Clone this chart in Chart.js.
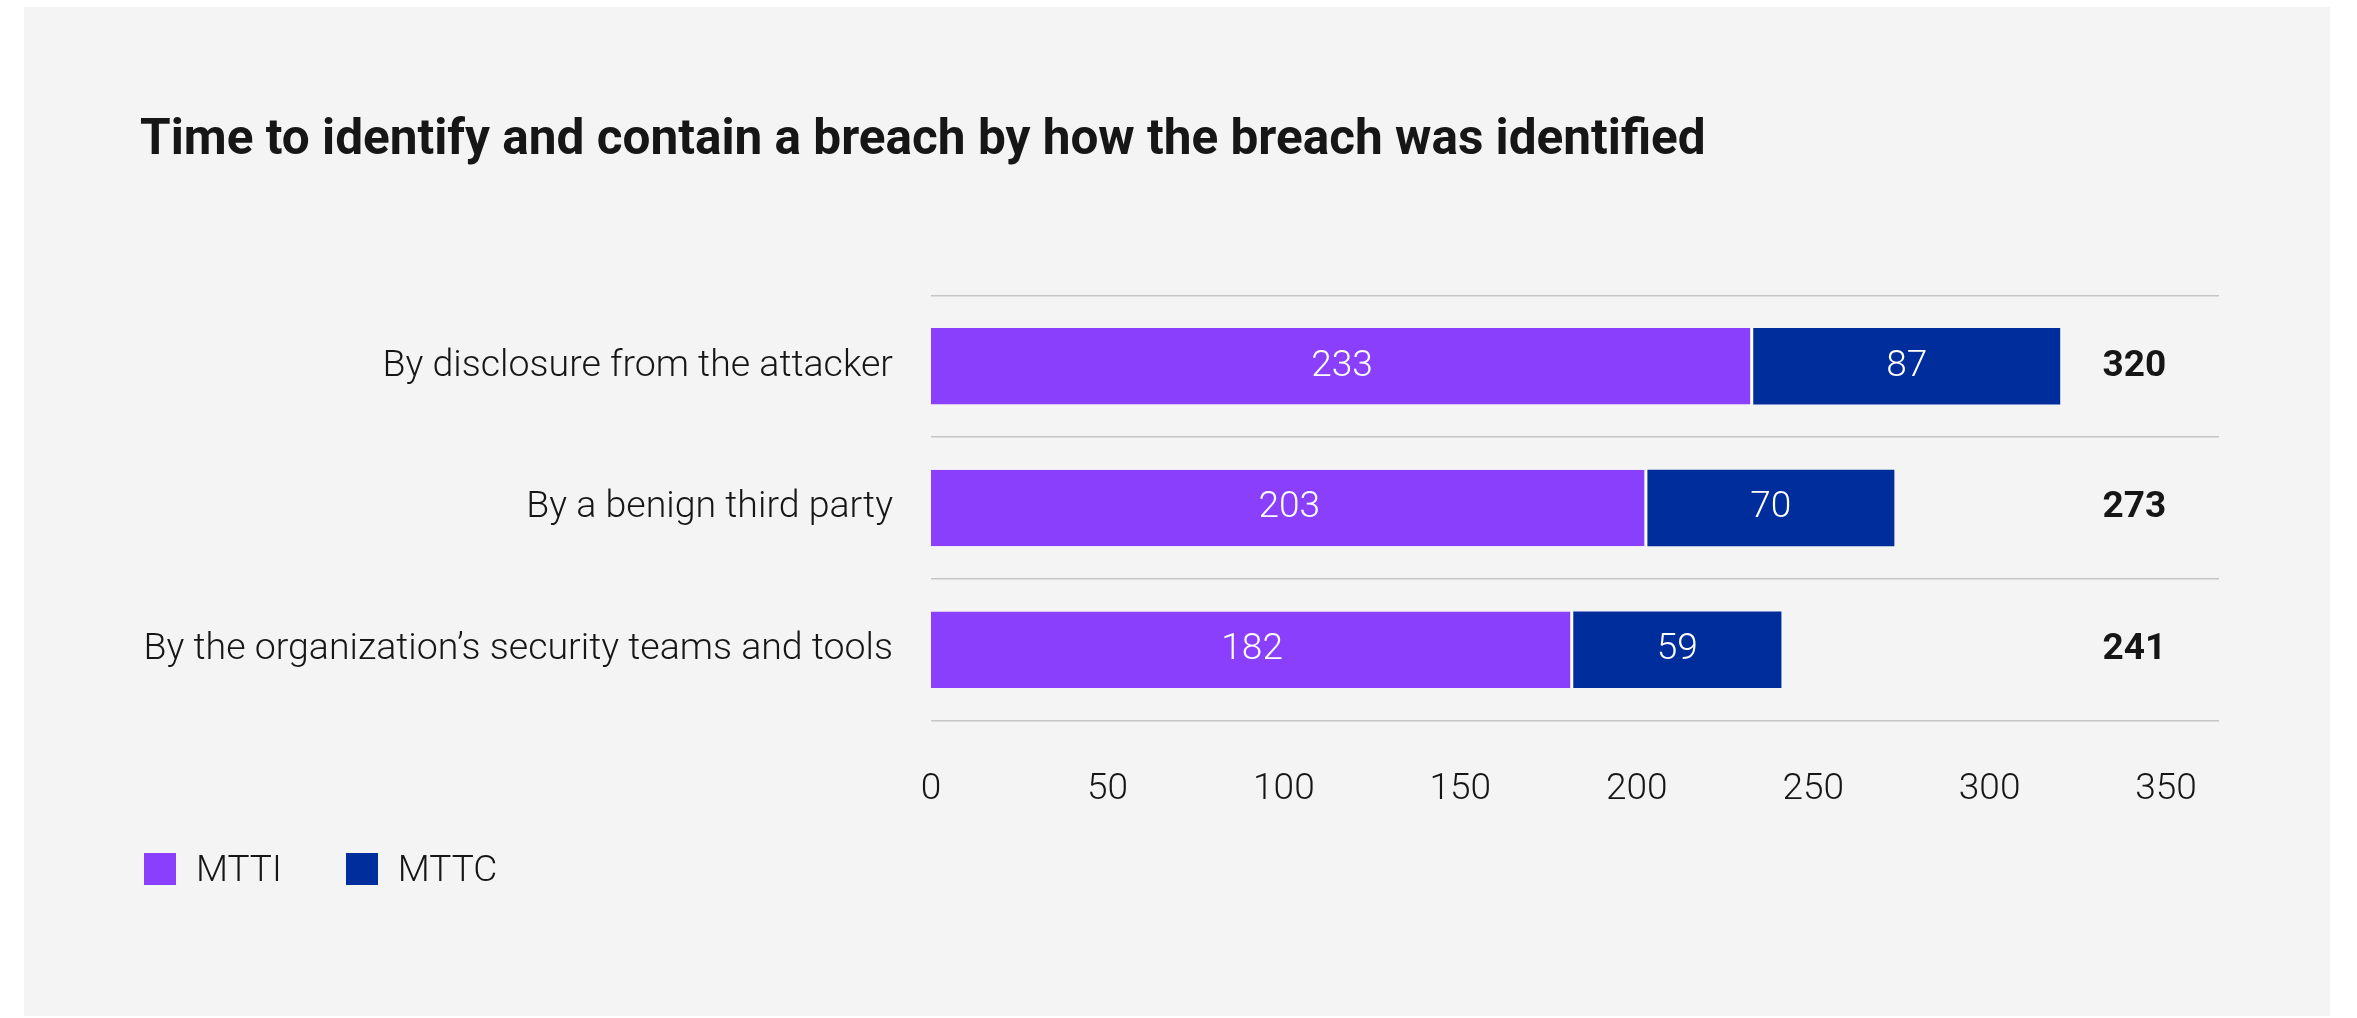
<!DOCTYPE html>
<html>
<head>
<meta charset="utf-8">
<script src="https://cdn.jsdelivr.net/npm/chart.js@4.4.1/dist/chart.umd.min.js"></script>
<style>
  html, body { margin: 0; padding: 0; background: #ffffff; }
  #panel { position: absolute; left: 24px; top: 7px; width: 2306px; height: 1009px; background: #f4f4f4; }
  #chartBox { position: absolute; left: 0; top: 0; width: 2306px; height: 1009px; }
  #legend { position: absolute; left: 120px; top: 840px; display: flex; gap: 64px;
            font-family: Roboto, sans-serif; font-weight: 300; font-size: 37px; color: #161616; }
  .item { display: flex; align-items: center; }
  .swatch { width: 32px; height: 32px; margin-right: 20px; }
</style>
</head>
<body>
<div id="panel">
  <div id="chartBox"><canvas id="breachChart"></canvas></div>
  <div id="legend"></div>
</div>
<script>
const categories = [
  'By disclosure from the attacker',
  'By a benign third party',
  'By the organization’s security teams and tools'
];
const mttiValues = [233, 203, 182];
const mttcValues = [87, 70, 59];
const xTicks = [0, 50, 100, 150, 200, 250, 300, 350];
const totals = mttiValues.map((v, i) => v + mttcValues[i]);
const totalAt = 341; // where the total column sits on the x scale

const textColor = '#161616';

// white value labels inside the segments + bold totals on the right
const barLabels = {
  id: 'barLabels',
  afterDatasetsDraw(chart) {
    const ctx = chart.ctx;
    ctx.save();
    ctx.textAlign = 'center';
    ctx.textBaseline = 'middle';
    ctx.font = '300 37px Roboto, sans-serif';
    ctx.fillStyle = '#ffffff';
    chart.data.datasets.forEach((ds, i) => {
      chart.getDatasetMeta(i).data.forEach((bar, j) => {
        ctx.fillText(String(ds.data[j]), (bar.x + bar.base) / 2, bar.y);
      });
    });
    ctx.font = 'bold 37px Roboto, sans-serif';
    ctx.fillStyle = textColor;
    const x = chart.scales.x.getPixelForValue(totalAt);
    chart.getDatasetMeta(0).data.forEach((bar, j) => {
      ctx.fillText(String(totals[j]), x, bar.y);
    });
    ctx.restore();
  }
};

const chart = new Chart(document.getElementById('breachChart'), {
  type: 'bar',
  data: {
    labels: categories,
    datasets: [{
      label: 'MTTI',
      data: mttiValues,
      backgroundColor: '#8a3ffc',
      borderColor: '#ffffff',
      borderWidth: { right: 3, left: 0, top: 0, bottom: 0 },
      borderSkipped: false
    }, {
      label: 'MTTC',
      data: mttcValues,
      backgroundColor: '#002d9c',
      borderWidth: 0
    }]
  },
  options: {
    indexAxis: 'y',
    responsive: true,
    maintainAspectRatio: false,
    animation: false,
    datasets: { bar: { categoryPercentage: 1, barPercentage: 0.54 } },
    layout: { padding: { left: 116, right: 111, top: 0, bottom: 166 } },
    plugins: {
      legend: { display: false },
      tooltip: { enabled: false },
      title: {
        display: true,
        text: 'Time to identify and contain a breach by how the breach was identified',
        align: 'start',
        color: textColor,
        font: { family: 'Roboto, sans-serif', size: 49.5, weight: 'bold', lineHeight: 1.2 },
        padding: { top: 105, bottom: 124 }
      }
    },
    scales: {
      x: {
        stacked: true,
        min: 0,
        max: 365,
        afterBuildTicks: (scale) => { scale.ticks = xTicks.map(v => ({ value: v })); },
        grid: { display: false },
        border: { display: false },
        ticks: {
          color: textColor,
          padding: 38.5,
          maxRotation: 0,
          font: { family: 'Roboto, sans-serif', size: 37, weight: '300', lineHeight: 1.2 }
        }
      },
      y: {
        stacked: true,
        afterFit: (scale) => { scale.width = 791; },
        grid: { offset: true, drawTicks: false, color: '#c6c6c6', lineWidth: 1.5 },
        border: { display: false },
        ticks: {
          color: textColor,
          padding: 38,
          font: { family: 'Roboto, sans-serif', size: 37.5, weight: '300' }
        }
      }
    }
  },
  plugins: [barLabels]
});

// legend built from the datasets
const legend = document.getElementById('legend');
chart.data.datasets.forEach(ds => {
  const item = document.createElement('div');
  item.className = 'item';
  const sw = document.createElement('span');
  sw.className = 'swatch';
  sw.style.background = ds.backgroundColor;
  const txt = document.createElement('span');
  txt.textContent = ds.label;
  item.appendChild(sw);
  item.appendChild(txt);
  legend.appendChild(item);
});
</script>
</body>
</html>
